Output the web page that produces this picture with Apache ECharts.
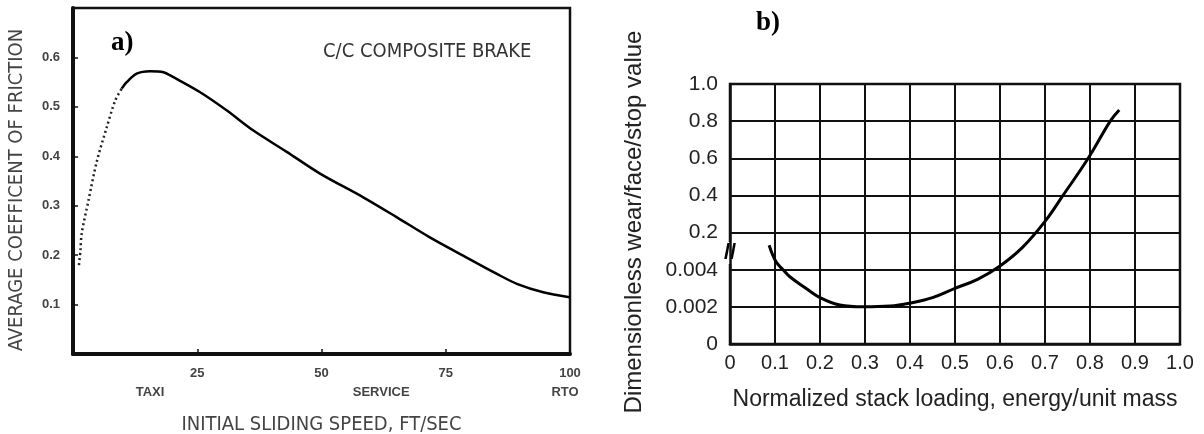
<!DOCTYPE html>
<html>
<head>
<meta charset="utf-8">
<script src="https://cdn.jsdelivr.net/npm/echarts@6/dist/echarts.min.js"></script>
<style>
  html, body { margin: 0; padding: 0; background: #fff; }
  #chart { width: 1204px; height: 434px; }
</style>
</head>
<body>
<div id="chart"></div>
<script>
// ---------- Panel a: average coefficient of friction vs initial sliding speed ----------
const dottedSpeed = [1.2, 1.5, 1.75, 3.1, 4.8, 6.8, 8.5, 9.8];
const dottedMu    = [0.18, 0.21, 0.244, 0.31, 0.39, 0.459, 0.513, 0.537];
const solidSpeed  = [9.8, 10.8, 12.8, 15.5, 18.2, 20.2, 25.5, 30.9, 36.3, 43.0, 49.7, 58.4, 65.1, 71.8, 78.5, 85.3, 89.3, 94.6, 99.9];
const solidMu     = [0.537, 0.550, 0.567, 0.572, 0.570, 0.560, 0.530, 0.493, 0.452, 0.409, 0.365, 0.317, 0.277, 0.236, 0.199, 0.162, 0.142, 0.125, 0.115];
const regimeNames = ['TAXI', 'SERVICE', 'RTO'];
const regimeSpeed = [15.5, 62, 99];

// ---------- Panel b: dimensionless wear vs normalized stack loading ----------
const bYTickLabels = ['0', '0.002', '0.004', '0.2', '0.4', '0.6', '0.8', '1.0'];
const loading  = [0.087, 0.102, 0.118, 0.133, 0.17, 0.2, 0.244, 0.296, 0.356, 0.4, 0.45, 0.5, 0.55, 0.6, 0.65, 0.7, 0.74, 0.796, 0.845, 0.865];
// position on the broken wear axis, in tick-index units (0 = "0", 2 = "0.004", 3 = "0.2", 7 = "1.0")
const wearPos  = [2.66, 2.22, 2.0, 1.81, 1.49, 1.25, 1.05, 1.0, 1.02, 1.1, 1.25, 1.5, 1.74, 2.1, 2.6, 3.3, 4.0, 5.0, 6.0, 6.3];

const narrow = "'Liberation Sans Narrow', 'Arial Narrow', 'DejaVu Sans Condensed', sans-serif";
const arial = "'Liberation Sans', Arial, sans-serif";
const serif = "'Liberation Serif', 'Times New Roman', serif";

const zip = (a, b) => a.map((v, i) => [v, b[i]]);

const chart = echarts.init(document.getElementById('chart'), null, { renderer: 'canvas' });

const option = {
  backgroundColor: '#ffffff',
  animation: false,
  title: [
    { text: 'a)', left: 106, top: 25, textStyle: { fontFamily: serif, fontSize: 27, fontWeight: 'bold', color: '#000' } },
    { text: 'C/C COMPOSITE BRAKE', left: 318, top: 37, textStyle: { fontFamily: narrow, fontSize: 20, fontWeight: 'normal', color: '#333' } },
    { text: 'b)', left: 751, top: 5, textStyle: { fontFamily: serif, fontSize: 27, fontWeight: 'bold', color: '#000' } }
  ],
  grid: [
    { left: 73, right: 634, top: 8, bottom: 80, show: true, borderColor: '#111', borderWidth: 2.5, containLabel: false, outerBoundsMode: 'none' },
    { left: 730, right: 24, top: 84, bottom: 90, show: true, borderColor: '#111', borderWidth: 2.5, containLabel: false, outerBoundsMode: 'none' }
  ],
  xAxis: [
    {
      gridIndex: 0, type: 'value', min: 0, max: 100, interval: 25,
      name: 'INITIAL SLIDING SPEED, FT/SEC', nameLocation: 'middle', nameGap: 61,
      nameTextStyle: { fontFamily: narrow, fontSize: 20, color: '#444' },
      axisLine: { show: true, lineStyle: { color: '#111', width: 4 } },
      axisTick: { show: true, inside: true, length: 5, lineStyle: { color: '#111', width: 1.5 } },
      axisLabel: { showMinLabel: false, margin: 13, fontFamily: arial, fontSize: 13, fontWeight: 'bold', color: '#444' },
      splitLine: { show: false }
    },
    {
      gridIndex: 0, type: 'value', min: 0, max: 100, position: 'bottom',
      axisLine: { show: false }, axisTick: { show: false }, splitLine: { show: false },
      axisLabel: {
        customValues: regimeSpeed, margin: 32,
        formatter: (v) => regimeNames[regimeSpeed.indexOf(v)] || '',
        fontFamily: arial, fontSize: 13, fontWeight: 'bold', color: '#444'
      }
    },
    {
      gridIndex: 1, type: 'value', min: 0, max: 1, interval: 0.1,
      name: 'Normalized stack loading, energy/unit mass', nameLocation: 'middle', nameGap: 44,
      nameTextStyle: { fontFamily: arial, fontSize: 23, color: '#222' },
      axisLine: { show: true, lineStyle: { color: '#111', width: 2.5 } },
      axisTick: { show: false },
      axisLabel: {
        margin: 9, fontFamily: arial, fontSize: 20, color: '#222',
        formatter: (v) => (v === 0 ? '0' : v.toFixed(1))
      },
      splitLine: { show: true, lineStyle: { color: '#111', width: 2 } }
    }
  ],
  yAxis: [
    {
      gridIndex: 0, type: 'value', min: 0, max: 0.7, interval: 0.1,
      name: 'AVERAGE COEFFICENT OF FRICTION', nameLocation: 'middle', nameGap: 46,
      nameTextStyle: { fontFamily: narrow, fontSize: 20, color: '#444', padding: [0, 18, 0, 0] },
      axisLine: { show: true, lineStyle: { color: '#111', width: 4 } },
      axisTick: { show: true, inside: true, length: 5, lineStyle: { color: '#111', width: 1.5 } },
      axisLabel: { showMinLabel: false, showMaxLabel: false, margin: 13, fontFamily: arial, fontSize: 13, fontWeight: 'bold', color: '#444',
        formatter: (v) => v.toFixed(1) },
      splitLine: { show: false }
    },
    {
      gridIndex: 1, type: 'value', min: 0, max: 7, interval: 1,
      name: 'Dimensionless wear/face/stop value', nameLocation: 'middle', nameGap: 84,
      nameTextStyle: { fontFamily: arial, fontSize: 24, color: '#222', padding: [0, 16, 0, 0] },
      axisLine: { show: true, lineStyle: { color: '#111', width: 2.5 } },
      axisTick: { show: false },
      axisLabel: { margin: 12, fontFamily: arial, fontSize: 21, color: '#222',
        formatter: (v) => bYTickLabels[Math.round(v)] },
      splitLine: { show: true, lineStyle: { color: '#111', width: 2 } }
    }
  ],
  series: [
    {
      type: 'line', xAxisIndex: 0, yAxisIndex: 0, data: zip(dottedSpeed, dottedMu),
      showSymbol: false, smooth: 0.3,
      lineStyle: { color: '#222', width: 2.5, type: [2, 3] }
    },
    {
      type: 'line', xAxisIndex: 0, yAxisIndex: 0, data: zip(solidSpeed, solidMu),
      showSymbol: false, smooth: 0.3,
      lineStyle: { color: '#000', width: 2.5 }
    },
    {
      type: 'line', xAxisIndex: 2, yAxisIndex: 1, data: zip(loading, wearPos),
      showSymbol: false, smooth: 0.4,
      lineStyle: { color: '#000', width: 3 }
    }
  ]
};

chart.setOption(option);

// axis break mark "//" on panel b's left border, between the 0.004 and 0.2 ticks
const brk = chart.convertToPixel({ xAxisIndex: 2, yAxisIndex: 1 }, [0, 2.45]);
chart.setOption({
  graphic: [{
    type: 'text', x: brk[0], y: brk[1],
    style: { text: '//', fontFamily: arial, fontSize: 22, fontWeight: 'bold', fill: '#000', align: 'center', verticalAlign: 'middle',
      backgroundColor: '#fff' }
  }]
});
</script>
</body>
</html>
